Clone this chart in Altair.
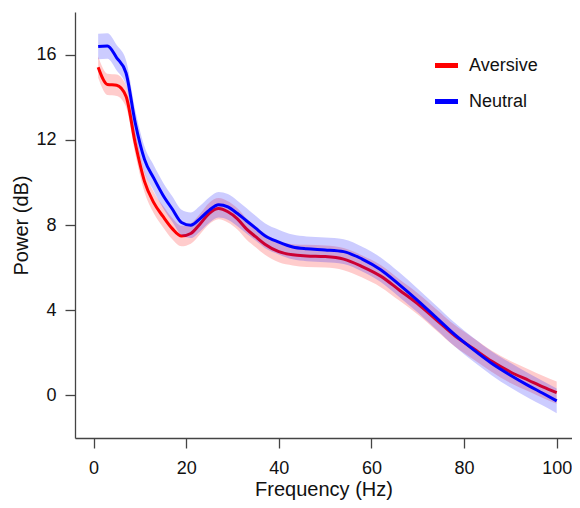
import altair as alt
import pandas as pd

freqs = [1, 3, 5, 7, 9, 11, 13, 15, 17, 19, 21, 23, 25, 27, 29, 31, 33, 35, 37,
         40, 43, 46, 50, 54, 58, 62, 66, 70, 74, 78, 82, 86, 90, 94, 97, 100]

aversive = [15.41, 14.60, 14.56, 14.05, 11.85, 10.05, 9.05, 8.40, 7.83, 7.48, 7.60,
            8.05, 8.55, 8.77, 8.62, 8.30, 7.82, 7.45, 7.10, 6.75, 6.60, 6.55, 6.52,
            6.40, 6.05, 5.60, 4.95, 4.30, 3.55, 2.80, 2.20, 1.60, 1.10, 0.70, 0.40, 0.13]
neutral = [16.38, 16.40, 15.85, 15.15, 12.80, 11.08, 10.20, 9.40, 8.75, 8.12, 7.99,
           8.30, 8.70, 8.95, 8.85, 8.55, 8.20, 7.85, 7.50, 7.20, 6.97, 6.88, 6.83,
           6.75, 6.40, 5.90, 5.20, 4.45, 3.65, 2.85, 2.15, 1.50, 0.95, 0.45, 0.10, -0.26]

aversive_sem = [0.5, 0.5, 0.5, 0.5, 0.5, 0.5, 0.5, 0.5, 0.5, 0.48, 0.48, 0.48, 0.5,
                0.5, 0.5, 0.5, 0.5, 0.5, 0.5, 0.5, 0.5, 0.52, 0.52, 0.52, 0.52, 0.52,
                0.5, 0.5, 0.5, 0.5, 0.5, 0.5, 0.52, 0.52, 0.52, 0.52]
neutral_sem = [0.6, 0.6, 0.6, 0.6, 0.6, 0.6, 0.6, 0.6, 0.6, 0.6, 0.6, 0.6, 0.6,
               0.6, 0.6, 0.6, 0.6, 0.58, 0.58, 0.58, 0.58, 0.58, 0.58, 0.58, 0.58,
               0.58, 0.58, 0.56, 0.56, 0.56, 0.56, 0.56, 0.58, 0.58, 0.58, 0.58]

series_names = ["Aversive", "Neutral"]
series_colors = ["#ff0000", "#0000ff"]

rows = []
for name, vals, sems in [("Aversive", aversive, aversive_sem), ("Neutral", neutral, neutral_sem)]:
    for f, v, s in zip(freqs, vals, sems):
        rows.append({"freq": f, "power": v, "lo": v - s, "hi": v + s, "series": name})
df = pd.DataFrame(rows)

FONT = "Liberation Sans"

xscale = alt.Scale(domain=[-4, 103.3], nice=False, zero=False)
yscale = alt.Scale(domain=[-2, 18], nice=False, zero=False)
xaxis = alt.Axis(values=[0, 20, 40, 60, 80, 100], title="Frequency (Hz)", grid=False)
yaxis = alt.Axis(values=[0, 4, 8, 12, 16], title="Power (dB)", grid=False)

base = alt.Chart(df)


def band(name, color):
    return base.transform_filter(alt.datum.series == name).mark_area(
        color=color, opacity=0.2, interpolate="monotone"
    ).encode(
        x=alt.X("freq:Q", scale=xscale, axis=xaxis),
        y=alt.Y("lo:Q", scale=yscale, axis=yaxis),
        y2="hi:Q",
    )


def line(name):
    return base.transform_filter(alt.datum.series == name).mark_line(
        strokeWidth=3, interpolate="monotone"
    ).encode(
        x=alt.X("freq:Q", scale=xscale, axis=xaxis),
        y=alt.Y("power:Q", scale=yscale, axis=yaxis),
        color=alt.Color(
            "series:N",
            scale=alt.Scale(domain=series_names, range=series_colors),
            legend=alt.Legend(
                title=None,
                orient="none",
                legendX=357,
                legendY=39,
                symbolType="stroke",
                symbolStrokeWidth=5,
                symbolSize=530,
                labelFontSize=18,
                labelFont=FONT,
                labelColor="#111111",
                labelOffset=8,
                rowPadding=11,
            ),
        ),
    )


chart = alt.layer(
    band("Aversive", "#ff0000"),
    line("Aversive"),
    band("Neutral", "#0000ff"),
    line("Neutral"),
).properties(
    width=497,
    height=426,
    autosize=alt.AutoSizeParams(type="none"),
    padding={"left": 67, "top": 4, "right": 0, "bottom": 62},
).configure_view(
    stroke=None
).configure_axis(
    domainColor="#444444",
    domainWidth=1.3,
    tickColor="#444444",
    tickWidth=1.3,
    tickSize=10,
    labelFont=FONT,
    labelFontSize=18,
    labelColor="#111111",
    titleFont=FONT,
    titleFontSize=20,
    titleFontWeight="normal",
    titleColor="#111111",
).configure_axisX(
    labelPadding=11,
    titlePadding=2,
).configure_axisY(
    labelPadding=9,
    titlePadding=4,
)

chart.save("out.html", embed_options={"renderer": "svg", "actions": False})
